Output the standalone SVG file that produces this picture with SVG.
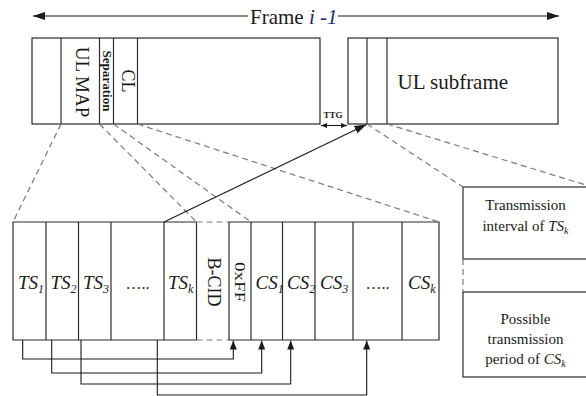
<svg xmlns="http://www.w3.org/2000/svg" width="586" height="396" viewBox="0 0 586 396">
<style>
text{font-family:"Liberation Serif","Times New Roman",serif;fill:#1a1a1a}
.box{fill:#fff;stroke:#2b2b2b;stroke-width:1.2}
.ln{stroke:#2b2b2b;stroke-width:1.2;fill:none}
.dash{stroke:#7a7a7a;stroke-width:1.2;stroke-dasharray:6 4;fill:none}
.conn{stroke:#1a1a1a;stroke-width:1.1;fill:none}
.it{font-style:italic}
.lbl{font-size:19px}
.sub{font-size:12px}
.bx{font-size:15px}
</style>
<defs>
<marker id="ahBig" markerUnits="userSpaceOnUse" markerWidth="12" markerHeight="8" refX="12" refY="4" orient="auto"><path d="M0,0 L12,4 L0,8 z" fill="#1a1a1a"/></marker>
<marker id="ahUp" markerUnits="userSpaceOnUse" markerWidth="9" markerHeight="7" refX="9" refY="3.5" orient="auto"><path d="M0,0 L9,3.5 L0,7 z" fill="#1a1a1a"/></marker>
<marker id="ahSm" markerUnits="userSpaceOnUse" markerWidth="6" markerHeight="5" refX="6" refY="2.5" orient="auto"><path d="M0,0 L6,2.5 L0,5 z" fill="#1a1a1a"/></marker>
</defs>
<rect width="586" height="396" fill="#fff"/>

<g id="frame-label">
<line class="conn" x1="248" y1="16" x2="33" y2="16" marker-end="url(#ahBig)"/>
<line class="conn" x1="338" y1="16" x2="559" y2="16" marker-end="url(#ahBig)"/>
<text x="250" y="24" font-size="21">Frame <tspan class="it" fill="#1f2a6b">i -1</tspan></text>
</g>

<g id="dl-subframe">
<rect class="box" x="32" y="38" width="288" height="86"/>
<line class="ln" x1="61" y1="38" x2="61" y2="124"/>
<line class="ln" x1="99.5" y1="38" x2="99.5" y2="124"/>
<line class="ln" x1="113.5" y1="38" x2="113.5" y2="124"/>
<line class="ln" x1="137.5" y1="38" x2="137.5" y2="124"/>
<text transform="translate(75.5,82) rotate(90)" text-anchor="middle" font-size="19" fill="#2b2b3b">UL MAP</text>
<text transform="translate(102.5,81) rotate(90)" text-anchor="middle" font-size="12.5" font-weight="bold" textLength="61" lengthAdjust="spacingAndGlyphs" fill="#2b2b3b">Separation</text>
<text transform="translate(121.5,81) rotate(90)" text-anchor="middle" font-size="18" fill="#2b2b3b">CL</text>
</g>

<g id="ttg">
<text x="333" y="117.5" text-anchor="middle" font-size="9" font-weight="bold" fill="#1f2a4b">TTG</text>
<line class="conn" x1="333" y1="125.5" x2="321" y2="125.5" marker-end="url(#ahSm)"/>
<line class="conn" x1="333" y1="125.5" x2="347" y2="125.5" marker-end="url(#ahSm)"/>
</g>

<g id="ul-subframe">
<rect class="box" x="348" y="38" width="210" height="86"/>
<line class="ln" x1="367" y1="38" x2="367" y2="124"/>
<line class="ln" x1="387" y1="38" x2="387" y2="124"/>
<text x="397.5" y="89" font-size="21">UL subframe</text>
</g>

<g id="ranging-slots">
<path class="ln" d="M196.5,222 H13 V340 H196.5 M229,222 H439 V340 H229"/>
<line class="dash" x1="196.5" y1="222" x2="229" y2="222"/>
<line class="dash" x1="196.5" y1="340" x2="229" y2="340"/>
<g class="ln">
<line x1="46" y1="222" x2="46" y2="340"/>
<line x1="78.5" y1="222" x2="78.5" y2="340"/>
<line x1="111" y1="222" x2="111" y2="340"/>
<line x1="164" y1="222" x2="164" y2="340"/>
<line x1="196.5" y1="222" x2="196.5" y2="340"/>
<line x1="229" y1="222" x2="229" y2="340"/>
<line x1="251" y1="222" x2="251" y2="340"/>
<line x1="282.5" y1="222" x2="282.5" y2="340"/>
<line x1="315" y1="222" x2="315" y2="340"/>
<line x1="353" y1="222" x2="353" y2="340"/>
<line x1="402" y1="222" x2="402" y2="340"/>
</g>
<text class="lbl it" x="18" y="289">TS<tspan class="sub" dy="4">1</tspan></text>
<text class="lbl it" x="50.5" y="289">TS<tspan class="sub" dy="4">2</tspan></text>
<text class="lbl it" x="83" y="289">TS<tspan class="sub" dy="4">3</tspan></text>
<text x="137.5" y="288.5" text-anchor="middle" font-size="16" fill="#555">…..</text>
<text class="lbl it" x="168" y="289">TS<tspan class="sub" dy="4">k</tspan></text>
<text transform="translate(207.5,282) rotate(90)" text-anchor="middle" font-size="18" fill="#2b2b3b">B-CID</text>
<text transform="translate(234.5,282) rotate(90)" text-anchor="middle" font-size="15" textLength="40" lengthAdjust="spacingAndGlyphs" fill="#2b2b3b">0xFF</text>
<text class="lbl it" x="255.5" y="289">CS<tspan class="sub" dy="4">1</tspan></text>
<text class="lbl it" x="287" y="289">CS<tspan class="sub" dy="4">2</tspan></text>
<text class="lbl it" x="320" y="289">CS<tspan class="sub" dy="4">3</tspan></text>
<text x="377.5" y="288.5" text-anchor="middle" font-size="16" fill="#555">…..</text>
<text class="lbl it" x="408" y="289">CS<tspan class="sub" dy="4">k</tspan></text>
</g>

<g id="tx-interval">
<rect class="box" x="463" y="187" width="126" height="72"/>
<text class="bx" x="525.5" y="210" text-anchor="middle">Transmission</text>
<text class="bx" x="525.5" y="231" text-anchor="middle">interval of <tspan class="it">TS</tspan><tspan class="it" font-size="10" dy="3">k</tspan></text>
</g>

<g id="tx-period">
<rect class="box" x="463" y="292" width="126" height="85"/>
<text class="bx" x="525.5" y="324" text-anchor="middle">Possible</text>
<text class="bx" x="525.5" y="344" text-anchor="middle">transmission</text>
<text class="bx" x="525.5" y="364" text-anchor="middle">period of <tspan class="it">CS</tspan><tspan class="it" font-size="10" dy="3">k</tspan></text>
</g>

<g id="connectors">
<line class="dash" x1="61" y1="124" x2="13" y2="222"/>
<line class="dash" x1="99.5" y1="124" x2="196.5" y2="222"/>
<line class="dash" x1="113.5" y1="124" x2="251" y2="222"/>
<line class="dash" x1="137.5" y1="124" x2="439" y2="222"/>
<line class="dash" x1="367" y1="124" x2="463" y2="187"/>
<line class="dash" x1="387" y1="124" x2="589" y2="186"/>
<line class="dash" x1="463" y1="259" x2="463" y2="292"/>
<line class="conn" x1="164" y1="222" x2="366.5" y2="124.5" marker-end="url(#ahBig)"/>
<path class="conn" d="M22.7,340 V359 H233.3 V340.5" marker-end="url(#ahUp)"/>
<path class="conn" d="M51.7,340 V373 H261.7 V340.5" marker-end="url(#ahUp)"/>
<path class="conn" d="M81,340 V384 H290.7 V340.5" marker-end="url(#ahUp)"/>
<path class="conn" d="M157.3,340 V395 H366.7 V340.5" marker-end="url(#ahUp)"/>
</g>
</svg>
